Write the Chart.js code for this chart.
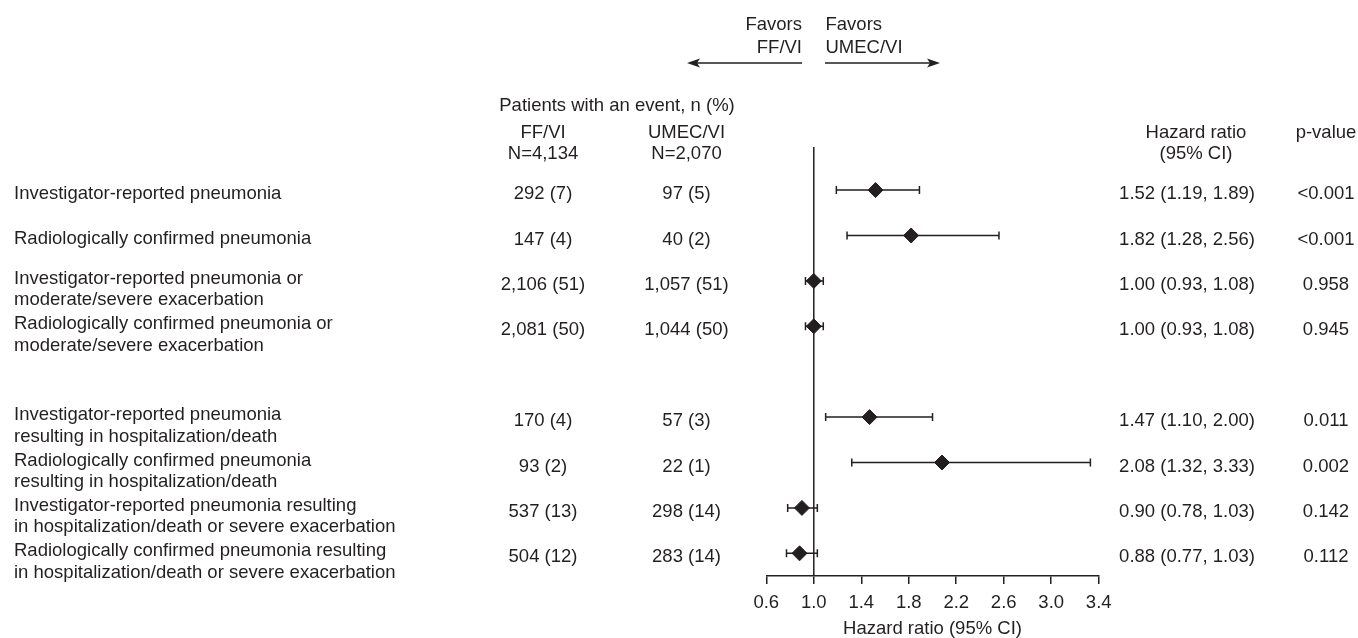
<!DOCTYPE html>
<html>
<head>
<meta charset="utf-8">
<script src="https://cdn.jsdelivr.net/npm/chart.js@4.4.0/dist/chart.umd.min.js"></script>
<style>
  html, body { margin: 0; padding: 0; background: #fff; }
  #wrap { width: 1358px; height: 638px; position: relative; }
</style>
</head>
<body>
<div id="wrap"><canvas id="forest"></canvas></div>
<script>
// ---- data ----
const outcomes = [
    ['Investigator-reported pneumonia'],
    ['Radiologically confirmed pneumonia'],
    ['Investigator-reported pneumonia or', 'moderate/severe exacerbation'],
    ['Radiologically confirmed pneumonia or', 'moderate/severe exacerbation'],
    ['Investigator-reported pneumonia', 'resulting in hospitalization/death'],
    ['Radiologically confirmed pneumonia', 'resulting in hospitalization/death'],
    ['Investigator-reported pneumonia resulting', 'in hospitalization/death or severe exacerbation'],
    ['Radiologically confirmed pneumonia resulting', 'in hospitalization/death or severe exacerbation']
];
const rowPos = [1, 2, 3, 4, 6, 7, 8, 9]; // row 5 is the blank gap

const groups = ['FF/VI', 'UMEC/VI'];
const groupN = ['N=4,134', 'N=2,070'];
const ffviEvents = ['292 (7)', '147 (4)', '2,106 (51)', '2,081 (50)', '170 (4)', '93 (2)', '537 (13)', '504 (12)'];
const umecEvents = ['97 (5)', '40 (2)', '1,057 (51)', '1,044 (50)', '57 (3)', '22 (1)', '298 (14)', '283 (14)'];

const hazardRatio = [1.52, 1.82, 1.00, 1.00, 1.47, 2.08, 0.90, 0.88];
const ciLower     = [1.19, 1.28, 0.93, 0.93, 1.10, 1.32, 0.78, 0.77];
const ciUpper     = [1.89, 2.56, 1.08, 1.08, 2.00, 3.33, 1.03, 1.03];
const pValues = ['<0.001', '<0.001', '0.958', '0.945', '0.011', '0.002', '0.142', '0.112'];

const xTicks = [0.6, 1.0, 1.4, 1.8, 2.2, 2.6, 3.0, 3.4];
const xTickLabels = ['0.6', '1.0', '1.4', '1.8', '2.2', '2.6', '3.0', '3.4'];

const INK = '#231f20';
const FAMILY = '"Liberation Sans", Arial, Helvetica, sans-serif';
const FSIZE = 18.5;
const FONT = FSIZE + 'px ' + FAMILY;

// confidence interval whiskers, drawn under the diamonds
const ciPlugin = {
    id: 'ciBars',
    beforeDatasetsDraw(chart) {
        const { ctx, scales: { x, y } } = chart;
        ctx.save();
        ctx.strokeStyle = INK;
        ctx.lineWidth = 1.5;
        rowPos.forEach((p, i) => {
            const cy = y.getPixelForValue(p);
            const x0 = x.getPixelForValue(ciLower[i]);
            const x1 = x.getPixelForValue(ciUpper[i]);
            ctx.beginPath();
            ctx.moveTo(x0, cy); ctx.lineTo(x1, cy);
            ctx.moveTo(x0, cy - 4); ctx.lineTo(x0, cy + 4);
            ctx.moveTo(x1, cy - 4); ctx.lineTo(x1, cy + 4);
            ctx.stroke();
        });
        ctx.restore();
    }
};

function arrowHead(ctx, tipX, y, dir) {
    ctx.beginPath();
    ctx.moveTo(tipX, y);
    ctx.lineTo(tipX - dir * 13, y - 4.5);
    ctx.lineTo(tipX - dir * 10, y);
    ctx.lineTo(tipX - dir * 13, y + 4.5);
    ctx.closePath();
    ctx.fill();
}

// table text, headers and the "favors" arrows
const tablePlugin = {
    id: 'forestTable',
    afterDraw(chart) {
        const { ctx, scales: { y } } = chart;
        ctx.save();
        ctx.font = FONT;
        ctx.fillStyle = INK;
        ctx.strokeStyle = INK;
        ctx.textBaseline = 'alphabetic';

        // favors header
        ctx.textAlign = 'right';
        ctx.fillText('Favors', 802, 30);
        ctx.fillText(groups[0], 802, 52.5);
        ctx.textAlign = 'left';
        ctx.fillText('Favors', 825.5, 30);
        ctx.fillText(groups[1], 825.5, 52.5);
        ctx.lineWidth = 1.5;
        ctx.beginPath();
        ctx.moveTo(802, 63); ctx.lineTo(692, 63);
        ctx.moveTo(825, 63); ctx.lineTo(935, 63);
        ctx.stroke();
        arrowHead(ctx, 687, 63, -1);
        arrowHead(ctx, 940, 63, 1);

        // column headers
        ctx.textAlign = 'center';
        ctx.fillText('Patients with an event, n (%)', 617, 110.5);
        ctx.fillText(groups[0], 543, 138);
        ctx.fillText(groupN[0], 543, 159);
        ctx.fillText(groups[1], 686.5, 138);
        ctx.fillText(groupN[1], 686.5, 159);
        ctx.fillText('Hazard ratio', 1196, 137.5);
        ctx.fillText('(95% CI)', 1196, 158.5);
        ctx.fillText('p-value', 1326, 137.5);

        // rows
        rowPos.forEach((p, i) => {
            const cy = y.getPixelForValue(p);
            const lines = outcomes[i];
            ctx.textAlign = 'left';
            if (lines.length === 1) {
                ctx.fillText(lines[0], 14, cy + 8.5);
            } else {
                ctx.fillText(lines[0], 14, cy + 3);
                ctx.fillText(lines[1], 14, cy + 24.5);
            }
            ctx.textAlign = 'center';
            ctx.fillText(ffviEvents[i], 543, cy + 9);
            ctx.fillText(umecEvents[i], 686.5, cy + 9);
            const hrStr = hazardRatio[i].toFixed(2) + ' (' + ciLower[i].toFixed(2) + ', ' + ciUpper[i].toFixed(2) + ')';
            ctx.fillText(hrStr, 1187, cy + 9);
            ctx.fillText(pValues[i], 1326, cy + 9);
        });
        ctx.restore();
    }
};

const ctx = document.getElementById('forest').getContext('2d');
const chart = new Chart(ctx, {
    type: 'scatter',
    data: {
        datasets: [
            {
                // line of no effect
                type: 'line',
                data: [{ x: 1, y: 0.05 }, { x: 1, y: 9.5 }],
                borderColor: INK,
                borderWidth: 1.5,
                pointRadius: 0,
                fill: false,
                clip: false
            },
            {
                data: rowPos.map((p, i) => ({ x: hazardRatio[i], y: p })),
                pointStyle: 'rectRot',
                pointRadius: 7.5,
                pointHoverRadius: 7.5,
                backgroundColor: INK,
                borderColor: INK,
                borderWidth: 1
            }
        ]
    },
    options: {
        responsive: true,
        maintainAspectRatio: false,
        animation: false,
        events: [],
        layout: { padding: { left: 766.3, right: 259.3, top: 144.7, bottom: 0 } },
        plugins: { legend: { display: false }, tooltip: { enabled: false } },
        scales: {
            x: {
                type: 'linear',
                position: 'bottom',
                min: 0.6,
                max: 3.4,
                afterBuildTicks: (scale) => {
                    scale.ticks = xTicks.map(v => ({ value: v }));
                },
                afterFit: (scale) => { scale.height = 62; },
                border: { display: true, color: INK, width: 1.5 },
                grid: {
                    drawOnChartArea: false,
                    drawTicks: true,
                    tickLength: 8,
                    color: INK,
                    lineWidth: 1.5
                },
                ticks: {
                    color: INK,
                    font: { family: FAMILY, size: FSIZE },
                    padding: 8,
                    autoSkip: false,
                    maxRotation: 0,
                    callback: (v, idx) => xTickLabels[idx]
                },
                title: {
                    display: true,
                    text: 'Hazard ratio (95% CI)',
                    color: INK,
                    font: { family: FAMILY, size: FSIZE, lineHeight: 1 },
                    padding: 0
                }
            },
            y: {
                type: 'linear',
                reverse: true,
                min: 0,
                max: 9.5,
                display: false
            }
        }
    },
    plugins: [ciPlugin, tablePlugin]
});
</script>
</body>
</html>
